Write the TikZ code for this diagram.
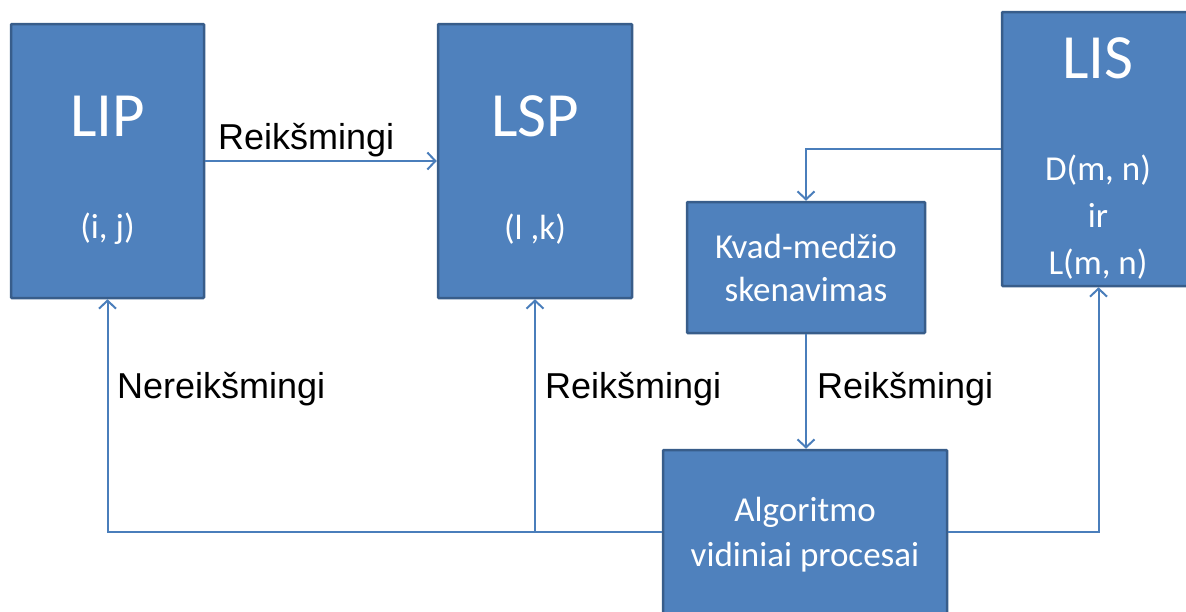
\documentclass[tikz,border=0pt]{standalone}
\usepackage{fontspec}
\setmainfont{Carlito}
\newfontfamily\lblfont{Liberation Sans}
\usetikzlibrary{arrows.meta,positioning}
\definecolor{boxblue}{HTML}{4F81BD}
\definecolor{boxedge}{HTML}{385D8A}
\definecolor{lineblue}{HTML}{4A7EBB}

\begin{document}
\begin{tikzpicture}[x=1pt,y=-1pt,
  box/.style={draw=boxedge,fill=boxblue,line width=2.5pt,rounded corners=1pt,inner sep=0pt},
  conn/.style={draw=lineblue,line width=2pt,-{Straight Barb[length=8pt,width=17pt,line width=2pt]}},
  bigtxt/.style={text=white,font=\fontsize{63}{63}\selectfont},
  smalltxt/.style={text=white,font=\fontsize{35}{45}\selectfont,align=center},
  lbl/.style={font=\lblfont\fontsize{36}{40}\selectfont,inner sep=0pt,anchor=base west}]
\useasboundingbox (0,0) rectangle (1186,611);
\clip (0,0) rectangle (1186,611);

% the boxes
\node[box,minimum width=193pt,minimum height=274pt] (lip) at (107.5,161) {};
\node[box,minimum width=194pt,minimum height=274pt] (lsp) at (535,161) {};
\node[box,minimum width=193pt,minimum height=274pt] (lis) at (1098.5,149) {};
\node[box,minimum width=238pt,minimum height=131pt] (kvad) at (806,267.5) {};
\node[box,minimum width=284pt,minimum height=164pt] (alg) at (805,532) {};

% texts in the boxes
\node[bigtxt] (liptxt) at (107.5,116) {LIP};
\node[smalltxt] (lipidx) at (107.5,229) {(i, j)};
\node[bigtxt] (lsptxt) at (535,116) {LSP};
\node[smalltxt] (lspidx) at (535,229) {(l ,k)};
\node[bigtxt] (listxt) at (1098,58) {LIS};
\node[smalltxt,font=\fontsize{35}{47}\selectfont] (lisidx) at (1098,217) {D(m, n)\\ir\\L(m, n)};
\node[smalltxt,font=\fontsize{35}{43}\selectfont] (kvadtxt) at (806,268) {Kvad-medžio\\skenavimas};
\node[smalltxt] (algtxt) at (805,535) {Algoritmo\\vidiniai procesai};

% connectors
\draw[conn] (lip) -- (lsp);
\draw[conn] (lis.west) -| (kvad.north);
\draw[conn] (kvad.south) -- (kvad.south |- alg.north);
\draw[conn] (alg.west) -| (lip.south);
\coordinate (fork) at (lsp.south |- alg.west);
\draw[conn] (fork) -- (lsp.south);
\draw[conn] (alg.east) -| (lis.south);

% labels
\node[lbl] (r1) at (218,149) {Reikšmingi};
\node[lbl] (n1) at (117,398) {Nereikšmingi};
\node[lbl] (r2) at (545,398) {Reikšmingi};
\node[lbl] (r3) at (817,398) {Reikšmingi};
\end{tikzpicture}
\end{document}
